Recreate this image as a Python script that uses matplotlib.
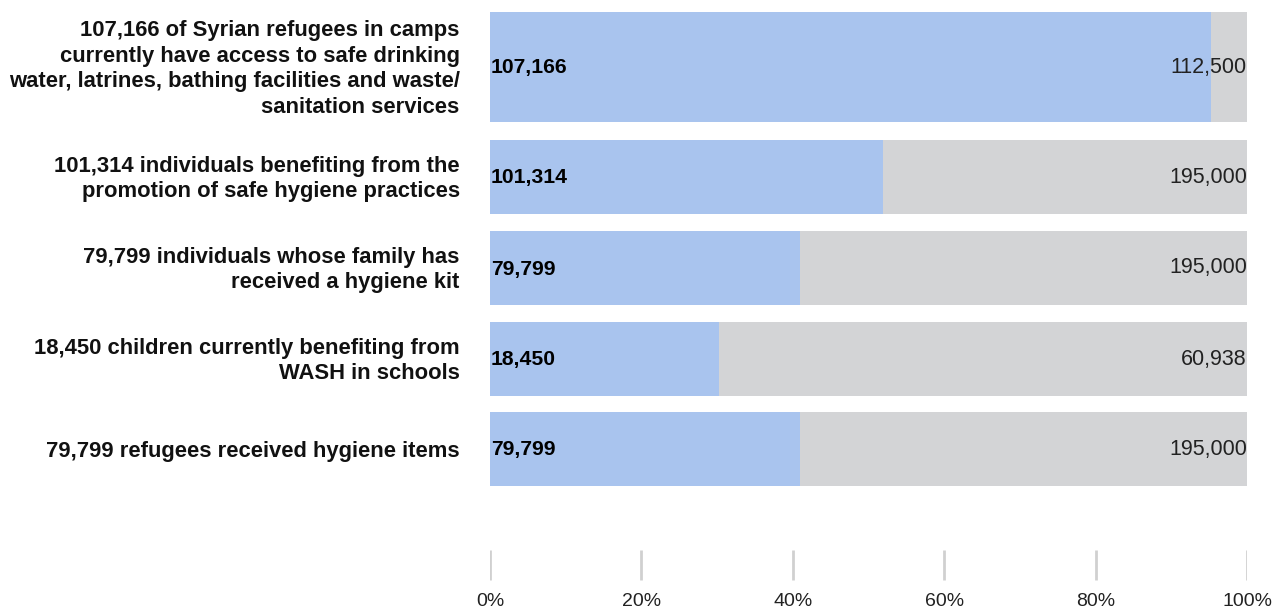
import matplotlib.pyplot as plt

plt.rcParams['font.family'] = ['Liberation Sans', 'DejaVu Sans']

# WASH indicators: achieved vs target
labels = [
    '107,166 of Syrian refugees in camps\ncurrently have access to safe drinking\nwater, latrines, bathing facilities and waste/\nsanitation services',
    '101,314 individuals benefiting from the\npromotion of safe hygiene practices',
    '79,799 individuals whose family has\nreceived a hygiene kit',
    '18,450 children currently benefiting from\nWASH in schools',
    '79,799 refugees received hygiene items',
]
achieved = [107166, 101314, 79799, 18450, 79799]
targets = [112500, 195000, 195000, 60938, 195000]
ticks = [0, 20, 40, 60, 80, 100]

W, H = 1276, 611
fig = plt.figure(figsize=(W / 100, H / 100), dpi=100)
# axes covers the bar area; y runs in pixel rows from the top
ax = fig.add_axes([490 / W, 0, 757 / W, 1])
ax.set_xlim(0, 100)
ax.set_ylim(H, 0)
ax.axis('off')

blue = '#a9c4ee'
grey = '#d3d4d6'

tops = [12, 140, 231, 322, 412]
heights = [110, 74, 74, 74, 74]

for lab, a, t, top, h in zip(labels, achieved, targets, tops, heights):
    yc = top + h / 2
    pct = a / t * 100
    ax.barh(yc, 100, height=h, color=grey, left=0)
    ax.barh(yc, pct, height=h, color=blue, left=0)
    ax.text(0.1, yc + 1, f'{a:,}', ha='left', va='center', fontsize=15.2,
            fontweight='bold', color='black')
    ax.text(100, yc, f'{t:,}', ha='right', va='center', fontsize=15.5,
            color='#222222')
    ax.text(-4, yc + 2, lab, ha='right', va='center', fontsize=15.8,
            fontweight='bold', color='#111111', linespacing=1.28)

for tk in ticks:
    ax.plot([tk, tk], [550, 580], color='#d0d0d0', lw=2, solid_capstyle='butt')
    ax.text(tk, 601, f'{tk}%', ha='center', va='center', fontsize=14,
            color='#222222')

fig.savefig('out.png', dpi=100)
